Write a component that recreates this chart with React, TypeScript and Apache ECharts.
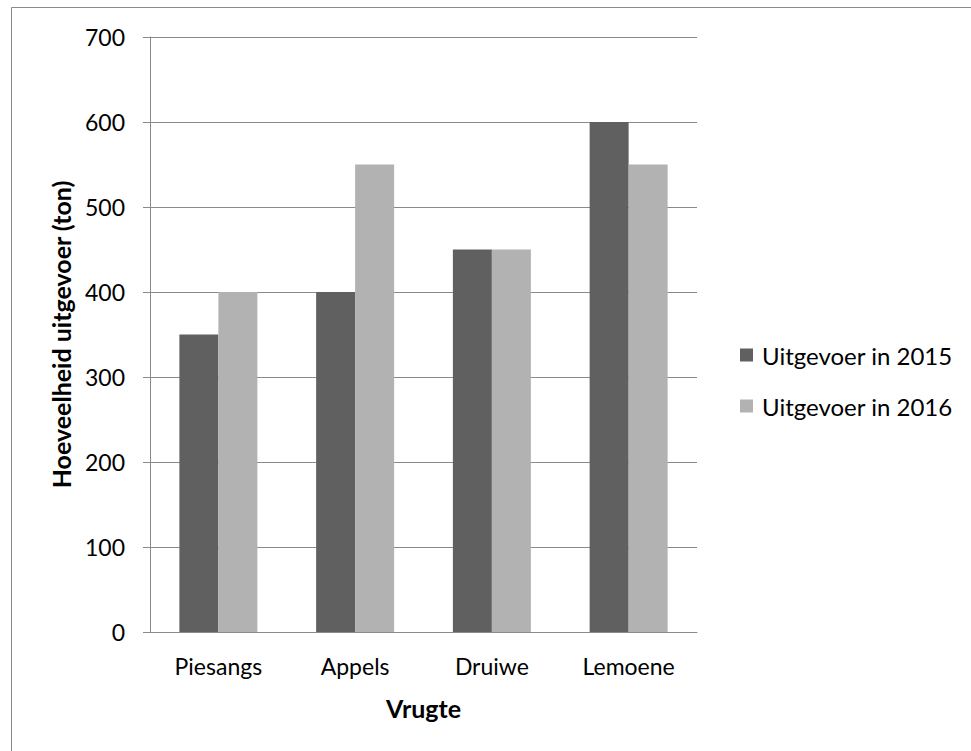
import React, { useEffect, useRef } from "react";
import * as echarts from "echarts";

const categories = ["Piesangs", "Appels", "Druiwe", "Lemoene"];
const series2015 = [350, 400, 450, 600];
const series2016 = [400, 550, 450, 550];
const seriesNames = ["Uitgevoer in 2015", "Uitgevoer in 2016"];
const yAxisTitle = "Hoeveelheid uitgevoer (ton)";
const xAxisTitle = "Vrugte";

const FONT = "Lato";

export default function App() {
  const ref = useRef<HTMLDivElement>(null);
  useEffect(() => {
    if (!ref.current) return;
    const chart = echarts.init(ref.current, undefined, { renderer: "svg" });
    chart.setOption({
      animation: false,
      backgroundColor: "#ffffff",
      textStyle: { fontFamily: FONT },
      graphic: [
        {
          type: "rect",
          shape: { x: 11.5, y: 7.5, width: 1000, height: 800 },
          style: { fill: "none", stroke: "#8a8a8a", lineWidth: 1 },
          silent: true,
        },
      ],
      grid: { left: 150, right: 274, top: 37, bottom: 119, containLabel: false },
      legend: {
        orient: "vertical",
        left: 740,
        top: 343,
        padding: 0,
        itemWidth: 13,
        itemHeight: 13,
        itemGap: 27,
        icon: "rect",
        data: seriesNames,
        textStyle: { fontFamily: FONT, fontSize: 24, color: "#000", lineHeight: 24, padding: [0, 0, 0, 4] },
      },
      xAxis: {
        type: "category",
        data: categories,
        name: xAxisTitle,
        nameLocation: "middle",
        nameGap: 63,
        nameTextStyle: { fontFamily: FONT, fontSize: 25, fontWeight: "bold", color: "#000" },
        axisLine: { lineStyle: { color: "#8a8a8a", width: 1 } },
        axisTick: { show: false },
        axisLabel: { fontFamily: FONT, fontSize: 23, color: "#000", margin: 22 },
      },
      yAxis: {
        type: "value",
        min: 0,
        max: 700,
        interval: 100,
        name: yAxisTitle,
        nameLocation: "middle",
        nameGap: 77,
        nameRotate: 90,
        nameTextStyle: { fontFamily: FONT, fontSize: 25, fontWeight: "bold", color: "#000" },
        axisLine: { show: true, lineStyle: { color: "#8a8a8a", width: 1 } },
        axisTick: { show: true, length: 7, lineStyle: { color: "#8a8a8a" } },
        axisLabel: { fontFamily: FONT, fontSize: 23, color: "#000", margin: 25 },
        splitLine: { lineStyle: { color: "#8a8a8a", width: 1 } },
      },
      series: [
        {
          name: seriesNames[0],
          type: "bar",
          data: series2015,
          barWidth: 39,
          barGap: "0%",
          itemStyle: { color: "#606060" },
        },
        {
          name: seriesNames[1],
          type: "bar",
          data: series2016,
          barWidth: 39,
          barGap: "0%",
          itemStyle: { color: "#b2b2b2" },
        },
      ],
    });
    return () => chart.dispose();
  }, []);
  return (
    <div
      ref={ref}
      style={{ position: "fixed", left: 0, top: 0, width: 971, height: 751, background: "#fff" }}
    />
  );
}
